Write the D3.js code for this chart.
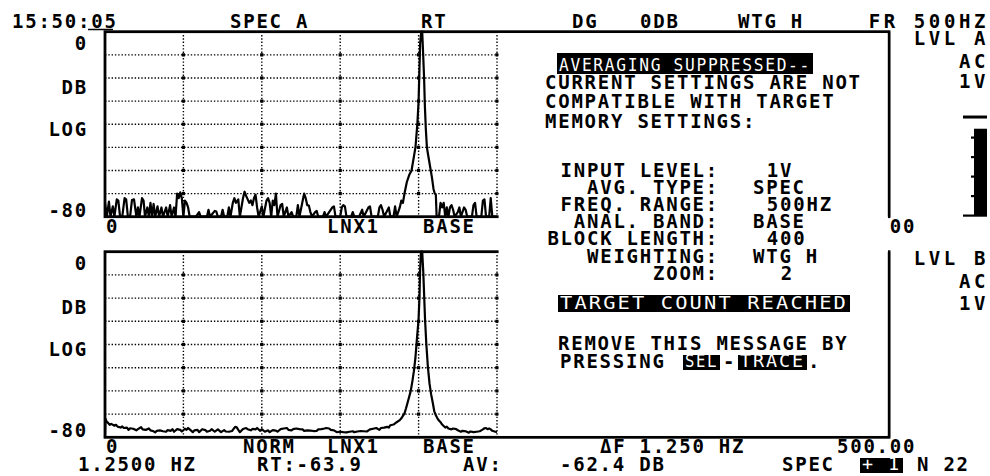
<!DOCTYPE html>
<html><head><meta charset="utf-8">
<script src="https://cdn.jsdelivr.net/npm/d3@7"></script>
<style>
html,body{margin:0;padding:0;background:#fff;}
svg{display:block;}
text{font-family:"DejaVu Sans Mono",monospace;font-weight:bold;fill:#000;}
</style></head><body>
<svg id="c" width="990" height="476"></svg>
<script>
// ---------- data ----------
const freqTicks = [0,50,100,150,200,250,300,350,400,450,500];
const dbTicks = [-80,-70,-60,-50,-40,-30,-20,-10,0];
const yAxisLabels = ["0","DB","LOG","-80"];
const meterTicks = [0,1,2,3,4];
const meterLevel = 4.45;
const meterPeak = 5.05;

// top trace: instantaneous spectrum (Hz, dB)
const topTrace = [[0,-74],[1.2,-84],[2.5,-73.5],[3.5,-84],[5,-75.5],[6,-84],[7.5,-72.5],[8.5,-73],[9.6,-84],[11,-84],[12.5,-72],[13.5,-72.5],[14.6,-84],[16,-84],[17.2,-72.8],[18.5,-72.5],[20,-84],[21,-76],[22,-84],[23.6,-72],[24.6,-73],[25.5,-84],[27,-76],[28,-84],[29,-74],[30,-84],[31,-74.5],[32,-84],[33.5,-75.5],[34.5,-84],[36,-76],[37,-84],[39,-76],[40,-84],[41.5,-75],[42.5,-84],[44,-76],[45,-84],[46,-70],[47,-72],[48,-69.5],[49,-72],[50,-84],[51,-73],[52,-74],[53,-76],[54,-84],[58,-84],[60,-78],[61,-84],[65,-84],[66,-77],[67,-84],[70,-77.5],[71,-77.8],[72,-84],[74,-84],[75,-77],[76,-84],[78,-84],[79,-76],[80,-84],[81.5,-74],[82.5,-72],[83.5,-74],[85,-72.5],[86,-84],[88,-72],[89,-69.2],[90,-71],[91,-72.5],[92,-74],[93,-73],[94,-75],[95,-72],[96,-70.5],[97,-76],[98,-84],[100,-75.5],[101,-84],[103,-73],[104,-72],[105,-74],[106,-84],[107,-73],[108,-75],[109,-70],[110,-84],[112,-75],[113,-74.5],[114,-84],[116,-76],[117,-84],[119,-78],[120,-84],[122,-84],[123,-75],[124,-84],[127,-70],[128,-72],[129,-75],[130,-75.2],[131,-78],[132,-84],[134,-78],[135,-77.5],[136,-84],[139,-84],[140,-78],[141,-84],[145,-76],[146,-75.5],[147,-84],[150,-84],[151,-76],[152,-75],[153,-75.5],[154,-84],[157,-84],[158,-78],[159,-84],[162,-84],[164,-77],[165,-84],[168,-76],[169,-75.5],[170,-84],[174,-84],[175,-76],[176,-75],[177,-77],[178,-84],[181,-76],[182,-84],[184,-84],[185,-75.5],[186,-84],[188,-76],[189,-73],[190,-74],[191,-70],[192.5,-65],[194,-62],[195.5,-60],[197,-54],[198,-50],[199.2,-40],[200,-30],[200.6,-15],[201,-5],[201.7,0],[202.3,0],[202.8,-8],[203.5,-20],[204,-32],[204.6,-42],[205.3,-50],[206,-53],[207,-57],[208.5,-63],[209.5,-68],[210.3,-70],[211,-70.5],[211.5,-84],[213,-84],[214,-74],[215,-76],[216,-74],[217,-84],[218,-76],[219,-84],[220,-76],[221,-75],[222,-77],[223,-84],[225,-78],[226,-76],[227,-84],[229,-76],[230,-77],[231,-84],[234,-84],[235,-75],[236,-74],[237,-84],[240,-84],[241,-73],[242,-72.5],[243,-84],[245,-84],[246,-72],[247,-84],[250,-84]];

// bottom trace: averaged spectrum (Hz, dB)
const botTrace = [[0,-84],[0.3,-72],[1,-73.2],[2,-73.8],[3,-74.6],[4,-74.2],[6,-75],[7,-74.6],[8,-75.4],[10,-75.8],[11,-75.3],[12,-76],[14,-75.8],[15,-76.8],[16,-76.1],[18,-76.3],[20,-77],[21,-76.5],[23,-75.6],[24,-76.6],[26,-76.8],[28,-76.2],[29,-77],[31,-77.4],[32,-77.9],[33,-77.2],[35,-77],[37,-77.4],[39,-77.6],[40,-76.9],[42,-77.2],[43,-76.5],[44,-77.6],[46,-76.5],[48,-76.8],[49,-77.5],[51,-76.3],[52,-76.8],[53,-76],[54,-76.6],[56,-77.8],[57,-77],[59,-76.8],[60,-77.8],[62,-76.5],[64,-76.9],[65,-77.6],[67,-77.2],[68,-76.5],[70,-77.6],[72,-76.6],[74,-77.8],[76,-76.9],[77,-77.5],[79,-77.6],[81,-77.3],[82,-76.4],[83,-75.5],[84,-75.7],[85,-76.8],[86,-77.8],[88,-76.4],[90,-76],[91,-76.5],[93,-77],[94,-76.4],[96,-76.6],[97,-76],[99,-77.2],[100,-76.5],[102,-77.6],[104,-77],[105,-77.8],[107,-76.9],[109,-77.1],[110,-77.6],[112,-76.5],[114,-76.2],[116,-76],[117,-76.8],[119,-77],[120,-76.5],[122,-76.2],[124,-76.5],[126,-76.6],[127,-77.2],[129,-77],[131,-77.1],[133,-77.3],[135,-77.2],[136,-76.6],[138,-76.5],[140,-76.2],[141,-76],[143,-76.2],[144,-76.8],[146,-77],[148,-77.8],[150,-77.6],[152,-77.8],[154,-77.9],[156,-77.6],[158,-77.4],[159,-77.8],[161,-77.5],[163,-77.3],[165,-77.4],[167,-77.5],[169,-76.6],[171,-76.3],[173,-76],[175,-76.8],[176,-76],[178,-75.8],[180,-75.5],[181,-75.8],[182,-74.8],[184,-74.5],[185,-74],[186,-73.5],[188,-72.6],[189,-71.8],[190,-70.8],[191,-69.7],[192,-67.5],[193,-65],[194,-62.5],[195,-60],[196,-56],[197,-51.5],[198,-45.5],[199,-37],[200,-29],[200.6,-19],[200.9,-9],[201.5,0],[202.3,0],[203,-9],[203.6,-20],[204.1,-29],[204.9,-39.5],[205.9,-49.5],[207,-57],[208,-61.5],[209,-65],[210,-68.8],[211,-70.5],[212,-71.8],[213,-72.8],[214,-73.5],[215,-74.5],[217,-75.8],[218,-75.4],[219,-76.2],[221,-76.6],[222,-76.2],[224,-76.5],[225,-77],[227,-77.6],[228,-77.2],[230,-77.4],[232,-78],[233,-77.5],[235,-77.8],[237,-77.6],[239,-77.4],[240,-77],[241,-76.6],[242,-76.1],[243,-76],[244,-76.5],[245,-76.2],[246,-76.6],[247,-77.2],[249,-77.6],[250,-77.8]];

// header / side texts
const headerTexts = [["15:50:05",12],["SPEC A",230],["RT",421],["DG",572],["0DB",640],["WTG H",738]];
const headerRight = "FR 500HZ";
const sideTexts = [["LVL A",45],["AC",68],["1V",88],["LVL B",265],["AC",288],["1V",310]];
const settingLabels = ["INPUT LEVEL:","AVG. TYPE:","FREQ. RANGE:","ANAL. BAND:","BLOCK LENGTH:","WEIGHTING:","ZOOM:"];
const settingValues = ["1V","SPEC","500HZ","BASE","400","WTG H","2"];
const settingValueCol = [1,0,1,0,1,0,2];

// ---------- drawing ----------
const svg = d3.select("#c");
const PITCH = 13.2;
const FS = 19;
const LS = PITCH - 0.602*FS;

function txt(x, y, s, opt={}) {
  const t = svg.append("text").attr("x", x).attr("y", y).attr("font-size", opt.fs||FS)
    .attr("letter-spacing", opt.ls!==undefined?opt.ls:LS).text(s);
  if (opt.anchor) t.attr("text-anchor", opt.anchor);
  if (opt.fill) t.style("fill", opt.fill);
  if (opt.weight) t.style("font-weight", opt.weight);
  if (opt.len) t.attr("textLength", opt.len).attr("lengthAdjust","spacingAndGlyphs");
  return t;
}
function inv(x0, x1, y0, y1, s) {
  svg.append("rect").attr("x", x0).attr("y", y0).attr("width", x1-x0).attr("height", y1-y0).attr("fill","#000");
  txt(x0+2, y1-3.5, s, {fill:"#fff", weight:"normal", fs:17, len:x1-x0-4});
}

const x = d3.scaleLinear().domain([0,500]).range([105,889]);
const panels = [
  {top:31.7, bot:216.7, data:topTrace},
  {top:251.7, bot:437.3, data:botTrace}
];

panels.forEach(p => {
  const y = d3.scaleLinear().domain([-80,0]).range([p.bot, p.top]).clamp(true);
  p.y = y;
  const g = svg.append("g");
  g.selectAll(".h").data(dbTicks.slice(1,-1)).join("line")
    .attr("x1", x(0)).attr("x2", x(500)).attr("y1", d=>y(d)).attr("y2", d=>y(d))
    .attr("stroke","#000").attr("stroke-width",1.4).attr("stroke-dasharray","1.4,1.9");
  g.selectAll(".v").data(freqTicks.slice(1,-1)).join("line")
    .attr("x1", d=>x(d)).attr("x2", d=>x(d)).attr("y1", p.top).attr("y2", p.bot)
    .attr("stroke","#000").attr("stroke-width",1.4).attr("stroke-dasharray","1.4,1.9");
  const pts = [];
  freqTicks.slice(1,-1).forEach(f => dbTicks.slice(1,-1).forEach(d => pts.push([f,d])));
  g.selectAll(".dot").data(pts).join("rect")
    .attr("x", d=>x(d[0])-1.6).attr("y", d=>y(d[1])-1.6).attr("width",3.2).attr("height",3.2).attr("fill","#000");
  const line = d3.line().x(d=>x(d[0])).y(d=>y(d[1]));
  g.append("path").datum(p.data).attr("d", line).attr("fill","none")
    .attr("stroke","#000").attr("stroke-width",2.2).attr("stroke-linejoin","round");
  g.append("rect").attr("x", x(0)).attr("y", p.top).attr("width", x(500)-x(0)).attr("height", p.bot-p.top)
    .attr("fill","none").attr("stroke","#000").attr("stroke-width",2.8);
  const offs = [18.3, 62.5, 104, 185.5];
  yAxisLabels.forEach((s,i) => txt(88, p.top+offs[i], s, {anchor:"end"}));
});

// x-axis labels and footer
const r1 = 233, b1 = 453, b2 = 471;
txt(106, r1, "0"); txt(327, r1, "LNX1"); txt(423, r1, "BASE"); txt(837, r1, "500.00");
txt(106, b1, "0"); txt(243, b1, "NORM"); txt(327, b1, "LNX1"); txt(423, b1, "BASE");
txt(600, b1, "\u0394F 1.250 HZ"); txt(837, b1, "500.00");
txt(78, b2, "1.2500 HZ"); txt(257, b2, "RT:-63.9"); txt(463, b2, "AV:");
txt(560, b2, "-62.4 DB"); txt(782, b2, "SPEC");
inv(860, 903, 458, 473, "+ 1");
txt(917, b2, "N 22");

// message box
svg.append("rect").attr("x",498.6).attr("y",33.2).attr("width",888-498.6).attr("height",435.7-33.2).attr("fill","#fff");
panels.forEach(p => {
  svg.append("line").attr("x1",889).attr("x2",889).attr("y1",p.top).attr("y2",p.bot).attr("stroke","#000").attr("stroke-width",2.4);
});

inv(557, 813, 53, 74, "AVERAGING SUPPRESSED--");
txt(545, 88.5, "CURRENT SETTINGS ARE NOT");
txt(545, 108, "COMPATIBLE WITH TARGET");
txt(545, 127.5, "MEMORY SETTINGS:");
settingLabels.forEach((s,i) => {
  const yy = 177 + i*17.1;
  txt(719 - s.length*PITCH, yy, s);
  txt(753 + settingValueCol[i]*PITCH*1.05, yy, settingValues[i]);
});
inv(558, 850, 295, 312, "TARGET COUNT REACHED");
txt(558, 350, "REMOVE THIS MESSAGE BY");
txt(560, 368, "PRESSING");
inv(683, 720, 355, 370, "SEL");
txt(723, 368, "-");
inv(738, 807, 355, 370, "TRACE");
txt(808, 368, ".");

// header
headerTexts.forEach(d => txt(d[1], 28, d[0]));
txt(989, 28, headerRight, {anchor:"end", ls:3.6});
svg.append("line").attr("x1",88).attr("x2",113).attr("y1",29.5).attr("y2",29.5).attr("stroke","#000").attr("stroke-width",1.5);
sideTexts.forEach(d => txt(989, d[1], d[0], {anchor:"end", ls:3.6}));

// level meter
const m = d3.scaleLinear().domain([0,5]).range([215.5,118]);
svg.append("rect").attr("x",974).attr("y",m(meterLevel)).attr("width",13).attr("height",m(0)-m(meterLevel)).attr("fill","#000");
svg.append("rect").attr("x",963).attr("y",m(meterPeak)-1.5).attr("width",24).attr("height",3).attr("fill","#000");
svg.selectAll(".mt").data(meterTicks).join("rect")
  .attr("x", d=> d===0?963:971).attr("y", d=>m(d)-1).attr("width", d=> d===0?24:4).attr("height",2.2).attr("fill","#000");
</script>
</body></html>
